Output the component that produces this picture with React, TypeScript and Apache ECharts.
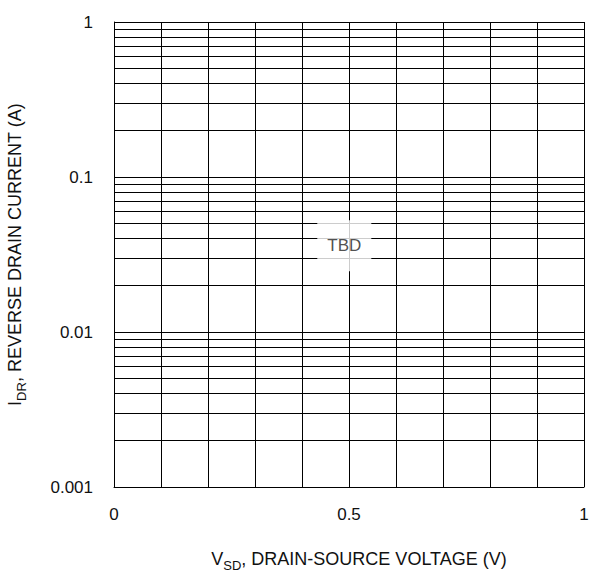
import React, { useEffect, useRef } from "react";
import * as echarts from "echarts";

// X axis: 0..1 V, grid every 0.1, labels at 0, 0.5, 1
const xMin = 0;
const xMax = 1;
const xStep = 0.1;
const xLabels = [0, 0.5, 1];

// Y axis: log, decades 0.001..1, minor grid at 2..9 of each decade
const yMajor = [0.001, 0.01, 0.1, 1];
const yMinorMultipliers = [2, 3, 4, 5, 6, 7, 8, 9];
const yLabels = ["0.001", "0.01", "0.1", "1"];

// Annotation placeholder
const noteX = [0.49];
const noteY = [0.036];
const noteText = ["TBD"];

const FONT = "Liberation Sans, Arial, Helvetica, sans-serif";

export default function App() {
  const ref = useRef<HTMLDivElement>(null);

  useEffect(() => {
    if (!ref.current) return;
    const chart = echarts.init(ref.current, undefined, { renderer: "svg" });

    const minorValues: number[] = [];
    for (let i = 0; i < yMajor.length - 1; i++) {
      for (const m of yMinorMultipliers) minorValues.push(yMajor[i] * m);
    }

    const nameRich = {
      m: { fontSize: 18, fontFamily: FONT, color: "#111", lineHeight: 26, verticalAlign: "middle" },
      s: { fontSize: 13, fontFamily: FONT, color: "#111", lineHeight: 16, verticalAlign: "bottom" },
    };

    chart.setOption({
      animation: false,
      backgroundColor: "#fff",
      grid: {
        left: 114,
        right: 16,
        top: 22,
        bottom: 85,
        containLabel: false,
        outerBoundsMode: "none",
      },
      xAxis: {
        type: "value",
        min: xMin,
        max: xMax,
        interval: xStep,
        axisLine: { show: true, lineStyle: { color: "#000", width: 1 } },
        axisTick: { show: false },
        splitLine: { show: true, lineStyle: { color: "#000", width: 1 } },
        axisLabel: {
          margin: 19,
          fontSize: 17,
          fontFamily: FONT,
          color: "#111",
          formatter: (v: number) => {
            const r = Math.round(v * 1000) / 1000;
            return xLabels.includes(r) ? String(r) : "";
          },
        },
        name: "{m|V}{s|SD}{m|, DRAIN-SOURCE VOLTAGE (V)}",
        nameLocation: "middle",
        nameGap: 59,
        nameTextStyle: { rich: nameRich, padding: [0, 0, 0, 20] },
      },
      yAxis: {
        type: "log",
        logBase: 10,
        min: yMajor[0],
        max: yMajor[yMajor.length - 1],
        axisLine: { show: true, lineStyle: { color: "#000", width: 1 } },
        axisTick: { show: false },
        splitLine: { show: true, lineStyle: { color: "#000", width: 1 } },
        axisLabel: {
          margin: 21,
          fontSize: 17,
          fontFamily: FONT,
          color: "#111",
          formatter: (v: number) => {
            const idx = yMajor.findIndex((m) => Math.abs(m - v) / m < 1e-6);
            return idx >= 0 ? yLabels[idx] : "";
          },
        },
        name: "{m|I}{s|DR}{m|, REVERSE DRAIN CURRENT (A)}",
        nameLocation: "middle",
        nameGap: 86,
        nameTextStyle: { rich: nameRich },
      },
      series: [
        {
          type: "lines",
          coordinateSystem: "cartesian2d",
          silent: true,
          polyline: false,
          lineStyle: { color: "#000", width: 1, opacity: 1, type: "solid" },
          data: minorValues.map((v) => ({ coords: [[xMin, v], [xMax, v]] })),
          z: 1,
        },
        {
          type: "scatter",
          symbolSize: 0,
          silent: true,
          data: noteX.map((x, i) => [x, noteY[i]]),
          label: {
            show: true,
            position: "inside",
            formatter: (p: any) => noteText[p.dataIndex],
            fontSize: 17,
            fontFamily: FONT,
            color: "#222",
            backgroundColor: "#fff",
            padding: [17, 10, 17, 10],
          },
          z: 5,
        },
      ],
    });

    return () => chart.dispose();
  }, []);

  return (
    <div
      ref={ref}
      style={{ position: "fixed", left: 0, top: 0, width: 600, height: 572, background: "#fff" }}
    />
  );
}
